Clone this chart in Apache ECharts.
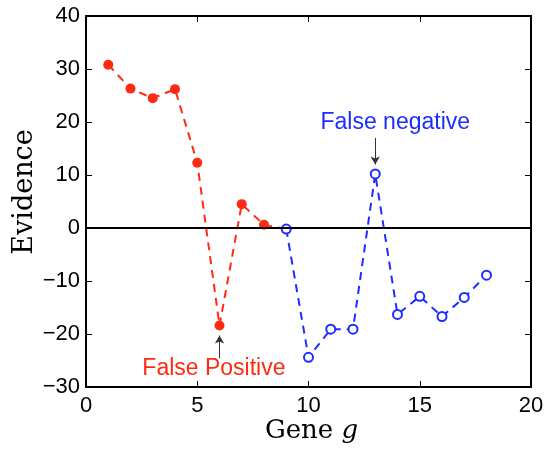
<!DOCTYPE html>
<html><head><meta charset="utf-8">
<script src="https://cdn.jsdelivr.net/npm/echarts@6/dist/echarts.min.js"></script>
<style>html,body{margin:0;padding:0;background:#fff}#c{width:546px;height:449px}</style>
</head><body><div id="c"></div>
<script>
const genesPos = [1, 2, 3, 4, 5, 6, 7, 8];
const evidencePos = [30.8, 26.3, 24.5, 26.2, 12.3, -18.4, 4.5, 0.6];
const genesNeg = [9, 10, 11, 12, 13, 14, 15, 16, 17, 18];
const evidenceNeg = [-0.2, -24.4, -19.1, -19.1, 10.2, -16.3, -12.9, -16.7, -13.1, -8.9];
const xTicks = [0, 5, 10, 15, 20];
const yTicks = [-30, -20, -10, 0, 10, 20, 30, 40];

const RED = '#ff2a12', BLUE = '#1e2dff';
const sans = 'Liberation Sans';
const serif = 'DejaVu Serif';

const posData = genesPos.map((g, i) => [g, evidencePos[i]]);
// dashed red line continues to first blue point
posData.push({ value: [genesNeg[0], evidenceNeg[0]], symbol: 'none' });
const negData = genesNeg.map((g, i) => [g, evidenceNeg[i]]);

const chart = echarts.init(document.getElementById('c'), null, { renderer: 'canvas' });
const fmt = v => String(v).replace('-', '\u2212');
const axisCommon = {
  type: 'value',
  splitLine: { show: false },
  nameMoveOverlap: false,
  axisLine: { show: true, onZero: false, lineStyle: { color: '#000', width: 2 } },
  axisTick: { show: true, inside: true, length: 6, lineStyle: { color: '#000', width: 1 } }
};
chart.setOption({
  animation: false,
  grid: { left: 86, right: 15, top: 16, bottom: 62, containLabel: false, outerBoundsMode: 'none' },
  xAxis: [
    Object.assign({}, axisCommon, {
      min: xTicks[0], max: xTicks[xTicks.length - 1], interval: 5,
      axisLabel: { color: '#000', fontFamily: sans, fontSize: 22, margin: 8, formatter: fmt },
      name: '{a|Gene }{b|g}', nameLocation: 'middle', nameGap: 31,
      nameTextStyle: { padding: [0, 0, 0, 6], rich: {
        a: { fontFamily: serif, fontSize: 26, color: '#000' },
        b: { fontFamily: serif, fontStyle: 'italic', fontSize: 26, color: '#000' } } }
    }),
    Object.assign({}, axisCommon, {
      position: 'top', min: 0, max: 20, interval: 5, axisLabel: { show: false }
    })
  ],
  yAxis: [
    Object.assign({}, axisCommon, {
      min: yTicks[0], max: yTicks[yTicks.length - 1], interval: 10,
      axisLabel: { color: '#000', fontFamily: sans, fontSize: 22, margin: 6, formatter: fmt },
      name: 'Evidence', nameLocation: 'middle', nameGap: 48,
      nameTextStyle: { fontFamily: serif, fontSize: 27, color: '#000', padding: [0, 0, 0, 19] }
    }),
    Object.assign({}, axisCommon, {
      position: 'right', min: -30, max: 40, interval: 10, axisLabel: { show: false }
    })
  ],
  series: [
    {
      type: 'line', data: posData, symbol: 'circle', symbolSize: 10,
      itemStyle: { color: RED },
      lineStyle: { color: RED, width: 2, type: [8, 6] },
      z: 3,
      markLine: {
        silent: true, symbol: ['none', 'none'], label: { show: false },
        lineStyle: { color: '#000', width: 2, type: 'solid' },
        data: [[{ coord: [0, 0] }, { coord: [20, 0] }]]
      },
      markPoint: {
        silent: true, symbol: 'circle', symbolSize: 0,
        label: { show: true, position: 'inside', color: RED, fontFamily: sans, fontSize: 23, formatter: 'False Positive' },
        data: [{ coord: [5.75, -26.6] }]
      }
    },
    {
      type: 'line', data: negData, symbol: 'emptyCircle', symbolSize: 9,
      itemStyle: { color: BLUE, borderWidth: 2 },
      lineStyle: { color: BLUE, width: 2, type: [8, 6] },
      z: 4,
      markPoint: {
        silent: true, symbol: 'circle', symbolSize: 0,
        label: { show: true, position: 'inside', color: BLUE, fontFamily: sans, fontSize: 23, formatter: 'False negative' },
        data: [{ coord: [13.9, 19.8] }]
      }
    },
    {
      type: 'line', data: [], silent: true,
      markLine: {
        silent: true, symbol: ['none', 'arrow'], symbolSize: [7, 8],
        label: { show: false },
        lineStyle: { color: '#333', width: 1, type: 'solid' },
        data: [
          [{ coord: [13, 17] }, { coord: [13, 12] }],
          [{ coord: [6, -24.6] }, { coord: [6, -20.3] }]
        ]
      }
    }
  ]
});
</script></body></html>
